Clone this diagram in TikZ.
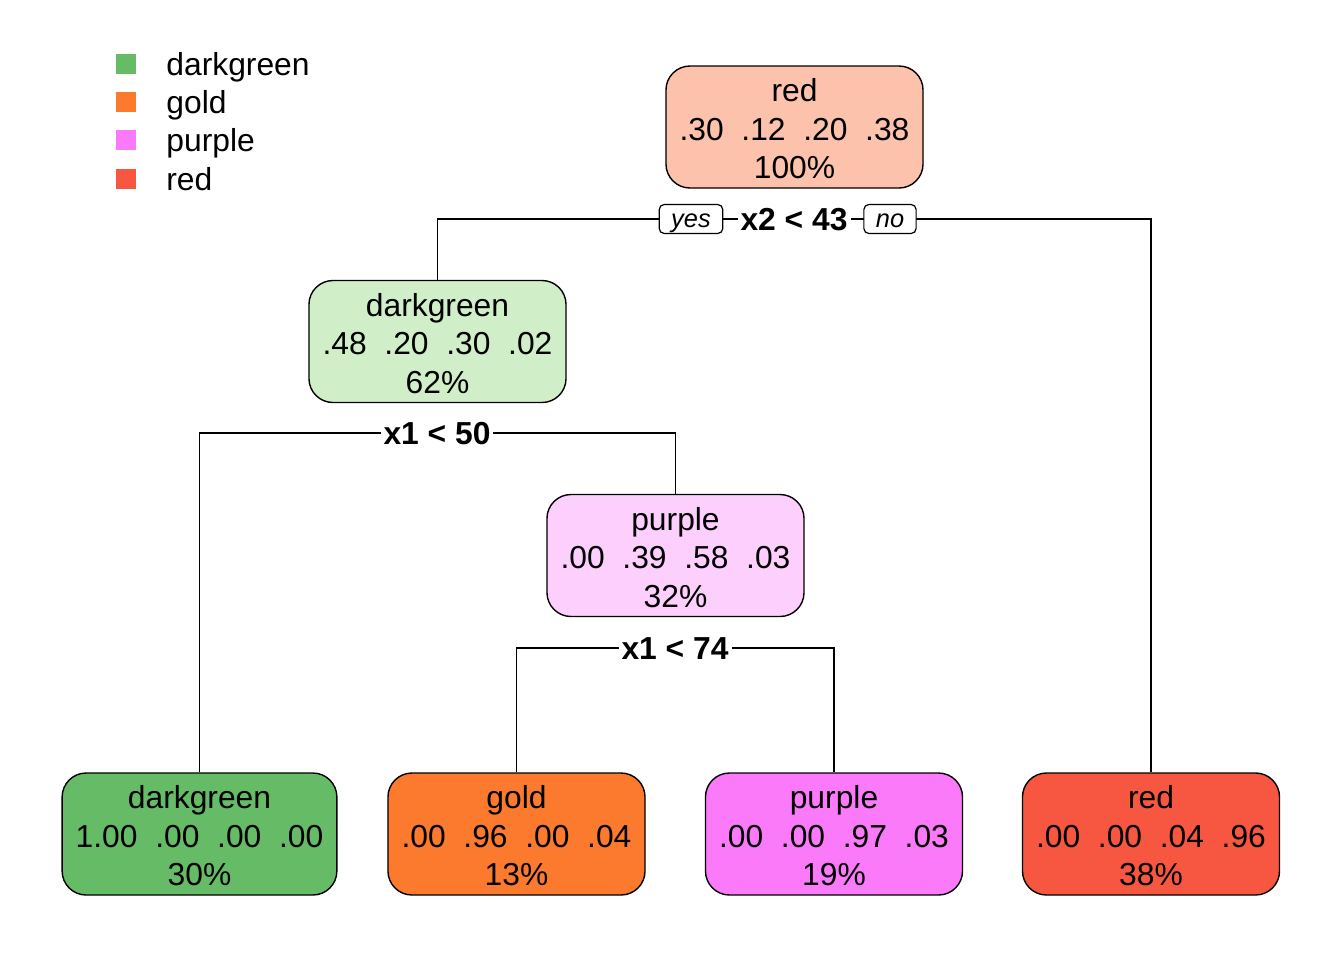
\documentclass[tikz,border=0pt]{standalone}
\usepackage{fontspec}
\setmainfont{Liberation Sans}
\usepackage{tikz}
\usepackage{xcolor}
\definecolor{cgreen}{HTML}{66BB66}
\definecolor{cgold}{HTML}{FB7A2E}
\definecolor{cpurple}{HTML}{FA7AFA}
\definecolor{cred}{HTML}{F75740}
\definecolor{lred}{HTML}{FCC2AC}
\definecolor{lgreen}{HTML}{D0EEC8}
\definecolor{lpurple}{HTML}{FDCFFD}
\newcommand{\colgap}{\hspace{0.556em}}
\newcommand{\topstrut}{\rule{0pt}{13.6pt}}

\begin{document}
\begin{tikzpicture}[x=0.5pt,y=-0.5pt,
  box/.style={draw,line width=0.7pt,rounded corners=12pt,align=center,minimum width=128.5pt,minimum height=61pt,inner xsep=6.8pt,font=\fontsize{15.9}{19.25}\selectfont},
  split/.style={fill=white,inner xsep=1.5pt,inner ysep=2pt,font=\fontsize{15.9}{19}\selectfont\bfseries},
  yn/.style={draw,line width=0.6pt,fill=white,rounded corners=2.5pt,minimum height=14.5pt,text height=9.5pt,text depth=1pt,inner xsep=6pt,inner ysep=0pt,font=\fontsize{12.7}{14}\selectfont\itshape},
  key/.style={anchor=base west,inner sep=0pt,font=\fontsize{15.9}{19}\selectfont}]
\useasboundingbox (0,0) rectangle (1344,960);
\coordinate (c1) at (794,219);
\coordinate (c2) at (437,433);
\coordinate (c3) at (675,648);
\node[box,fill=lred] (n1) at (794.5,127) {\topstrut red\\.30\colgap.12\colgap.20\colgap.38\\100\%};
\node[box,fill=lgreen] (n2) at (437.5,341.5) {\topstrut darkgreen\\.48\colgap.20\colgap.30\colgap.02\\62\%};
\node[box,fill=lpurple] (n3) at (675.5,555.5) {\topstrut purple\\.00\colgap.39\colgap.58\colgap.03\\32\%};
\node[box,fill=cgreen] (n4) at (199.5,834) {\topstrut darkgreen\\1.00\colgap.00\colgap.00\colgap.00\\30\%};
\node[box,fill=cgold] (n5) at (516.5,834) {\topstrut gold\\.00\colgap.96\colgap.00\colgap.04\\13\%};
\node[box,fill=cpurple] (n6) at (834,834) {\topstrut purple\\.00\colgap.00\colgap.97\colgap.03\\19\%};
\node[box,fill=cred] (n7) at (1151,834) {\topstrut red\\.00\colgap.00\colgap.04\colgap.96\\38\%};
\draw[line width=0.7pt] (n2.north) |- (c1) -| (n7.north);
\draw[line width=0.7pt] (n4.north) |- (c2) -| (n3.north);
\draw[line width=0.7pt] (n5.north) |- (c3) -| (n6.north);
\node[split] (s1) at (794,220) {x2 < 43};
\node[yn] (yes) at (691,219) {yes};
\node[yn] (no) at (890,219) {no};
\node[split] (s2) at (437,434) {x1 < 50};
\node[split] (s3) at (675,649) {x1 < 74};
\fill[cgreen] (116,54) rectangle (136,74);
\node[key] (k1) at (166,75) {darkgreen};
\fill[cgold] (116,92) rectangle (136,112);
\node[key] (k2) at (166,113) {gold};
\fill[cpurple] (116,130) rectangle (136,150);
\node[key] (k3) at (166,151) {purple};
\fill[cred] (116,169) rectangle (136,189);
\node[key] (k4) at (166,190) {red};
\end{tikzpicture}
\end{document}
